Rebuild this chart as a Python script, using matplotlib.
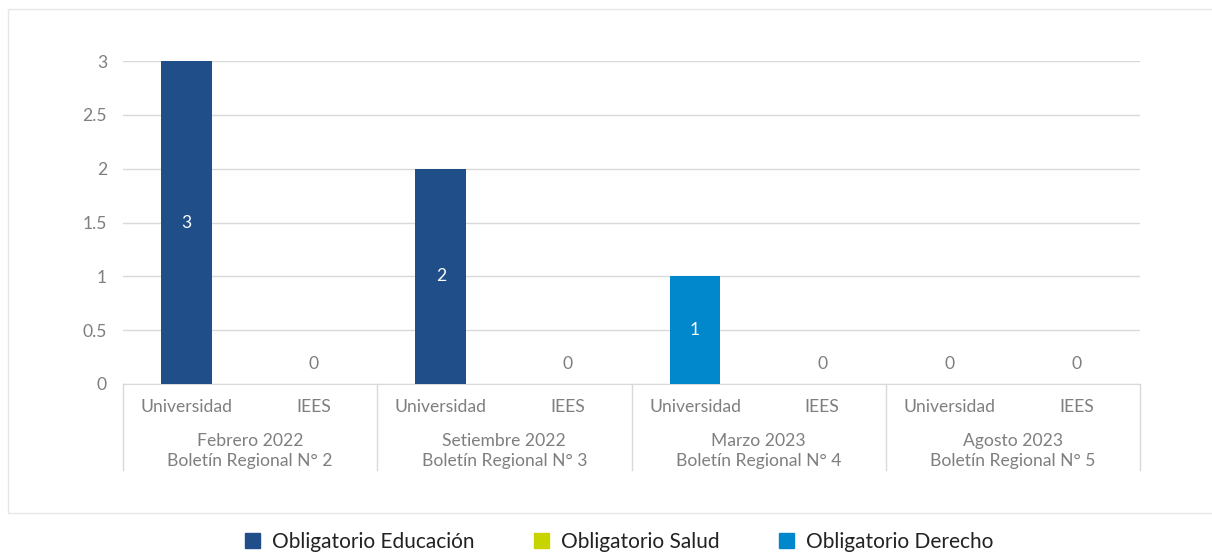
import numpy as np
import matplotlib.pyplot as plt
from matplotlib.patches import Rectangle, Patch
import matplotlib.transforms as mtransforms

plt.rcParams['font.family'] = ['Lato', 'DejaVu Sans']

# datos
tipos = ['Universidad', 'IEES'] * 4
periodos = ['Febrero 2022\nBoletín Regional N° 2',
            'Setiembre 2022\nBoletín Regional N° 3',
            'Marzo 2023\nBoletín Regional N° 4',
            'Agosto 2023\nBoletín Regional N° 5']
series = ['Obligatorio Educación', 'Obligatorio Salud', 'Obligatorio Derecho']
educacion = [3, 0, 2, 0, 0, 0, 0, 0]
salud = [0, 0, 0, 0, 0, 0, 0, 0]
derecho = [0, 0, 0, 0, 1, 0, 0, 0]
colores = ['#1f4e89', '#c8d400', '#0087cc']

gris = '#7f7f7f'
fs = 12.6
fig = plt.figure(figsize=(12.12, 5.53), dpi=100)
ax = fig.add_axes([123 / 1212, 1 - 384 / 553, (1140 - 123) / 1212, (384 - 61) / 553])

# marco exterior
fig.patches.append(Rectangle((8 / 1212, 1 - 513 / 553), 1.0, (513 - 9) / 553,
                             transform=fig.transFigure, fill=False,
                             edgecolor='#e6e6e6', linewidth=1, zorder=0))

x = np.arange(len(tipos))
bottom = np.zeros(len(tipos))
for nombre, vals, col in zip(series, [educacion, salud, derecho], colores):
    vals = np.array(vals, dtype=float)
    ax.bar(x, vals, 0.4, bottom=bottom, color=col, label=nombre, zorder=3, clip_on=False)
    for xi, v, b in zip(x, vals, bottom):
        if v > 0:
            ax.text(xi, b + v / 2, f'{v:g}', ha='center', va='center',
                    color='white', fontsize=fs, zorder=4)
    bottom += vals

total = bottom
for xi, t in zip(x, total):
    if t == 0:
        ax.text(xi, 0.19, '0', ha='center', va='center', color=gris, fontsize=fs)

ax.set_xlim(-0.5, len(tipos) - 0.5)
ax.set_ylim(0, 3)
ax.set_yticks([0, 0.5, 1, 1.5, 2, 2.5, 3])
ax.set_yticklabels(['0', '0.5', '1', '1.5', '2', '2.5', '3'])
ax.grid(axis='y', color='#d9d9d9', linewidth=1, zorder=0)
for s in ['top', 'right', 'left']:
    ax.spines[s].set_visible(False)
ax.spines['bottom'].set_color('#d9d9d9')
ax.tick_params(axis='y', length=0, pad=11.5, labelcolor=gris, labelsize=fs)
ax.tick_params(axis='x', length=0, pad=10.5, labelcolor=gris, labelsize=fs)
ax.set_xticks(x)
ax.set_xticklabels(tipos)

trans = mtransforms.blended_transform_factory(ax.transData, ax.transAxes)
for b in np.arange(-0.5, len(tipos), 2):
    ax.plot([b, b], [0, -(470 - 384) / 323], transform=trans, color='#d9d9d9',
            linewidth=1, clip_on=False)
for i, p in enumerate(periodos):
    ax.text(2 * i + 0.5, -(451 - 384) / 323, p, transform=trans, ha='center',
            va='center', color=gris, fontsize=fs, linespacing=1.35)

handles = [Patch(color=c) for c in colores]
fig.legend(handles, series, loc='center', bbox_to_anchor=(0.511, 1 - 542 / 553),
           ncol=3, frameon=False, fontsize=15, handlelength=0.7, handleheight=0.7,
           columnspacing=2.85, handletextpad=0.6, labelcolor='#222222')

fig.savefig('out.png', dpi=100)
